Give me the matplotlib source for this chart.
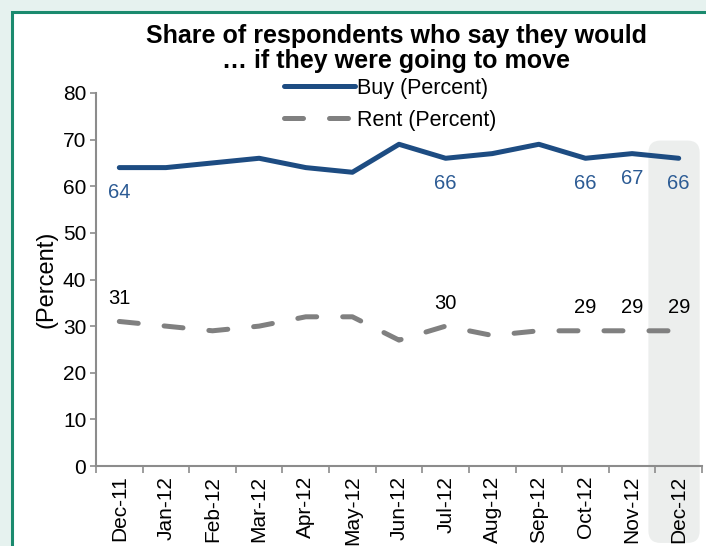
import numpy as np
import matplotlib.pyplot as plt
from matplotlib.patches import Rectangle, FancyBboxPatch

# dados
meses = ['Dec-11', 'Jan-12', 'Feb-12', 'Mar-12', 'Apr-12', 'May-12', 'Jun-12',
         'Jul-12', 'Aug-12', 'Sep-12', 'Oct-12', 'Nov-12', 'Dec-12']
buy = [64, 64, 65, 66, 64, 63, 69, 66, 67, 69, 66, 67, 66]
rent = [31, 30, 29, 30, 32, 32, 27, 30, 28, 29, 29, 29, 29]
# meses com rotulo
rotulos = [0, 7, 10, 11, 12]

azul = '#1d4c82'
azul_txt = '#2c5b94'
cinza = '#808080'

plt.rcParams['font.family'] = ['Liberation Sans', 'DejaVu Sans']

fig = plt.figure(figsize=(7.06, 5.46), dpi=100)
fig.patch.set_facecolor('#e6f2ef')
# painel branco com borda verde
fig.patches.append(Rectangle((11.5 / 706, -0.2), 1.2, 1.2 - 11.5 / 546,
                             transform=fig.transFigure, facecolor='white',
                             edgecolor='#1a8a6e', linewidth=2.2, zorder=-5))

ax = fig.add_axes([96 / 706, 80 / 546, 606 / 706, 373 / 546])
ax.patch.set_visible(False)

x = np.arange(len(meses))
ax.set_xlim(-0.5, len(meses) - 0.5)
ax.set_ylim(0, 80)

# faixa destacada do ultimo mes
w_px = 606
h_px = 373
aspect = (80 / h_px) / (13 / w_px)
faixa = FancyBboxPatch((11.35, -16.5), 1.1, 69.8 + 16.5,
                       boxstyle='round,pad=0,rounding_size=0.26',
                       mutation_aspect=aspect, transform=ax.transData,
                       facecolor='#eceeed', edgecolor='none', clip_on=False, zorder=0)
ax.add_patch(faixa)

ax.plot(x, buy, color=azul, lw=3.6, solid_capstyle='round', label='Buy (Percent)', zorder=3)
ax.plot(x, rent, color=cinza, lw=3.6, dashes=(3.8, 5.2), dash_capstyle='round',
        label='Rent (Percent)', zorder=3)

for i in rotulos:
    ax.annotate(str(buy[i]), (x[i], buy[i]), xytext=(0, -18), textcoords='offset points',
                ha='center', va='center', color=azul_txt, fontsize=14.5)
    ax.annotate(str(rent[i]), (x[i], rent[i]), xytext=(0, 16.5), textcoords='offset points',
                ha='center', va='center', color='black', fontsize=14.5)

# eixos
for s in ['top', 'right']:
    ax.spines[s].set_visible(False)
for s in ['left', 'bottom']:
    ax.spines[s].set_color('#8c8c8c')
    ax.spines[s].set_linewidth(1.5)
    ax.spines[s].set_zorder(2)

ax.set_yticks(np.arange(0, 81, 10))
ax.tick_params(axis='y', length=4, width=1.2, color='#8c8c8c', pad=3, labelsize=15)
ax.set_xticks(x)
ax.set_xticklabels(meses, rotation=90, fontsize=15)
ax.set_xticks(np.arange(-0.5, len(meses)), minor=True)
ax.tick_params(axis='x', which='major', length=0, pad=7)
ax.tick_params(axis='x', which='minor', length=5, width=1.2, color='#8c8c8c')

ax.set_ylabel('(Percent)', fontsize=17)
ax.yaxis.set_label_coords(-0.064, 0.5)

fig.text(396 / 706, 1 - 48.5 / 546,
         'Share of respondents who say they would\n… if they were going to move',
         ha='center', va='center', fontsize=18, fontweight='bold', linespacing=1.02)

ax.legend(loc='upper left', bbox_to_anchor=(284 / 706, 1 - 78 / 546),
          bbox_transform=fig.transFigure, frameon=False, fontsize=15.5,
          handlelength=3.3, handletextpad=0.1, borderpad=0, borderaxespad=0,
          labelspacing=0.5)

fig.savefig('out.png', dpi=100)
